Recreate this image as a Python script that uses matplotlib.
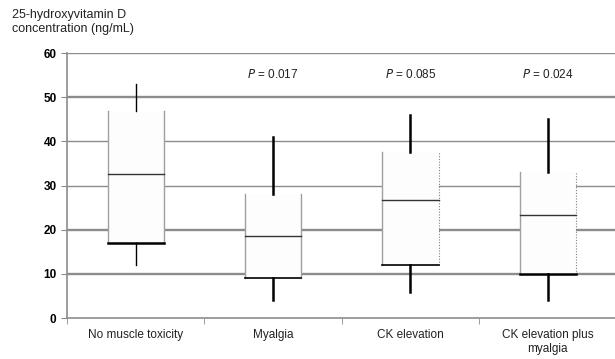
import matplotlib.pyplot as plt
import numpy as np

plt.rcParams['font.family'] = ['Liberation Sans', 'DejaVu Sans']

categories = ["No muscle toxicity", "Myalgia", "CK elevation", "CK elevation plus\nmyalgia"]
whisker_low = [12, 4, 6, 4]
q1 = [17, 9, 12, 10]
median = [32.7, 18.6, 26.8, 23.3]
q3 = [47, 28, 37.5, 33]
whisker_high = [53, 41, 46, 45]
p_values = [None, "0.017", "0.085", "0.024"]


def main():
    fig = plt.figure(figsize=(6.15, 3.59), dpi=100)
    ax = fig.add_axes([0.109, 0.114, 0.898, 0.738])

    x = np.arange(len(categories))
    w = 0.41

    # gridlines first so boxes sit on top
    for yv in range(10, 61, 10):
        ax.axhline(yv, color="#8c8c8c", lw=1.7 if yv in (10, 20, 50, 60) else 1.0, zorder=1)

    for i in x:
        l, r = i - w / 2, i + w / 2
        ax.bar(i, q3[i] - q1[i], bottom=q1[i], width=w, color="#fdfdfd",
               edgecolor="none", zorder=2)
        # box edges
        ax.plot([l, l], [q1[i], q3[i]], color="#a0a0a0", lw=1.0, zorder=3)
        if i >= 2:
            ax.plot([r, r], [q1[i], q3[i]], color="#808080", lw=0.8, ls=(0, (1, 1.5)), zorder=3)
        else:
            ax.plot([r, r], [q1[i], q3[i]], color="#a0a0a0", lw=1.0, zorder=3)
        ax.plot([l, r], [q1[i], q1[i]], color="black", lw=1.8 if i in (0, 3) else 1.2, zorder=4)
        ax.plot([l, r], [median[i], median[i]], color="#333333", lw=1.0, zorder=4)
        # whiskers
        lw = 1.0 if i == 0 else 1.8
        ax.plot([i, i], [whisker_low[i], q1[i]], color="black", lw=lw, zorder=3)
        ax.plot([i, i], [q3[i], whisker_high[i]], color="black", lw=lw, zorder=3)
        if p_values[i]:
            ax.text(i, 55.2, "$\\it{P}$ = " + p_values[i], ha="center", va="center",
                    fontsize=8.5, color="#222222")

    ax.set_xlim(-0.5, 3.52)
    ax.set_ylim(0, 60)
    ax.set_yticks(range(0, 61, 10))
    ax.set_xticks(x)
    ax.set_xticklabels(categories, fontsize=8.5, color="#222222")
    ax.set_xticks(np.arange(-0.5, 3.6, 1.0), minor=True)
    ax.tick_params(axis="x", which="major", length=0, pad=8)
    ax.tick_params(axis="x", which="minor", length=4, color="#8c8c8c")
    ax.tick_params(axis="y", length=4, color="#8c8c8c", labelsize=8.5)
    for lab in ax.get_yticklabels():
        lab.set_fontweight("bold")

    for s in ["top", "right"]:
        ax.spines[s].set_visible(False)
    ax.spines["left"].set_color("#8c8c8c")
    ax.spines["bottom"].set_color("#8c8c8c")
    ax.spines["left"].set_linewidth(1.2)
    ax.spines["bottom"].set_linewidth(1.2)

    fig.text(0.02, 0.975, "25-hydroxyvitamin D\nconcentration (ng/mL)", ha="left", va="top",
             fontsize=9, color="#222222", linespacing=1.2)

    fig.savefig("out.png", dpi=100)


if __name__ == "__main__":
    main()
